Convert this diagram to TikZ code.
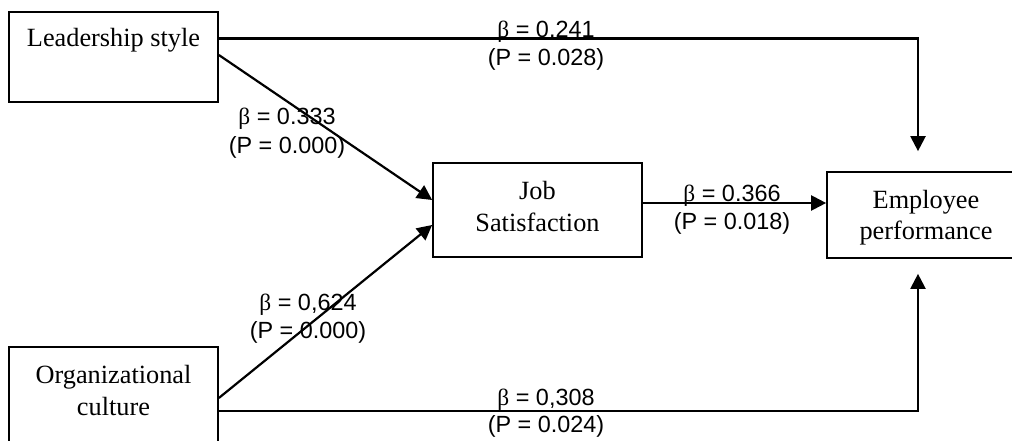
\documentclass[tikz,border=0pt]{standalone}
\usepackage{fontspec}
\setmainfont{Liberation Serif}
\newfontfamily\lblfont{Liberation Sans}
\newfontfamily\grkfont{Liberation Serif}
\usetikzlibrary{arrows.meta}
\begin{document}
\begin{tikzpicture}[x=1pt,y=-1pt,
  box/.style={draw, line width=1.7pt, inner sep=0pt, align=center,
    font=\fontsize{26.3}{31.5}\selectfont},
  arr/.style={line width=2.2pt, -{Triangle[length=15pt,width=15pt]}},
  lbl/.style={align=center, inner sep=0pt, font=\lblfont\fontsize{23.4}{26}\selectfont},
]
\useasboundingbox (0,0) rectangle (1012,441);
\clip (0,0) rectangle (1012,441);

% boxes
\node[box, minimum width=209pt, minimum height=90pt, text height=18pt, text depth=38pt]
  (ls) at (113.5,57) {Leadership style};
\node[box, minimum width=209pt, minimum height=128pt]
  (oc) at (113.5,411) {Organizational\\culture\\\strut};
\node[box, minimum width=209pt, minimum height=94pt]
  (js) at (537.5,210) {Job\\Satisfaction\rule[-7pt]{0pt}{1pt}};
\node[box, minimum width=198pt, minimum height=86pt]
  (ep) at (926,215) {\rule{0pt}{24pt}Employee\\performance};

% labels
\node[lbl] (l1) at (546,45.4) {{\grkfont β} = 0.241\\[2pt](P = 0.028)};
\node[lbl] (l2) at (287,132.7) {{\grkfont β} = 0.333\\[3pt](P = 0.000)};
\node[lbl] (l3) at (308,318.2) {{\grkfont β} = 0,624\\[2pt](P = 0.000)};
\node[lbl] (l4) at (732,209.2) {{\grkfont β} = 0.366\\[2pt](P = 0.018)};
\node[lbl] (l5) at (546,412.7) {{\grkfont β} = 0,308\\[1pt](P = 0.024)};

% connectors
\draw[arr] ([yshift=18.5pt]ls.east) -| ([xshift=-8pt,yshift=20pt]ep.north);
\draw[arr] ([yshift=2pt]ls.east) -- ([yshift=10pt]js.west);
\draw[arr] ([yshift=13pt]oc.east) -- ([yshift=-15pt]js.west);
\draw[arr] (oc.east) -| ([xshift=-8pt,yshift=-15pt]ep.south);
\draw[arr] ([yshift=7pt]js.east) -- ([yshift=12pt]ep.west);
\end{tikzpicture}
\end{document}
